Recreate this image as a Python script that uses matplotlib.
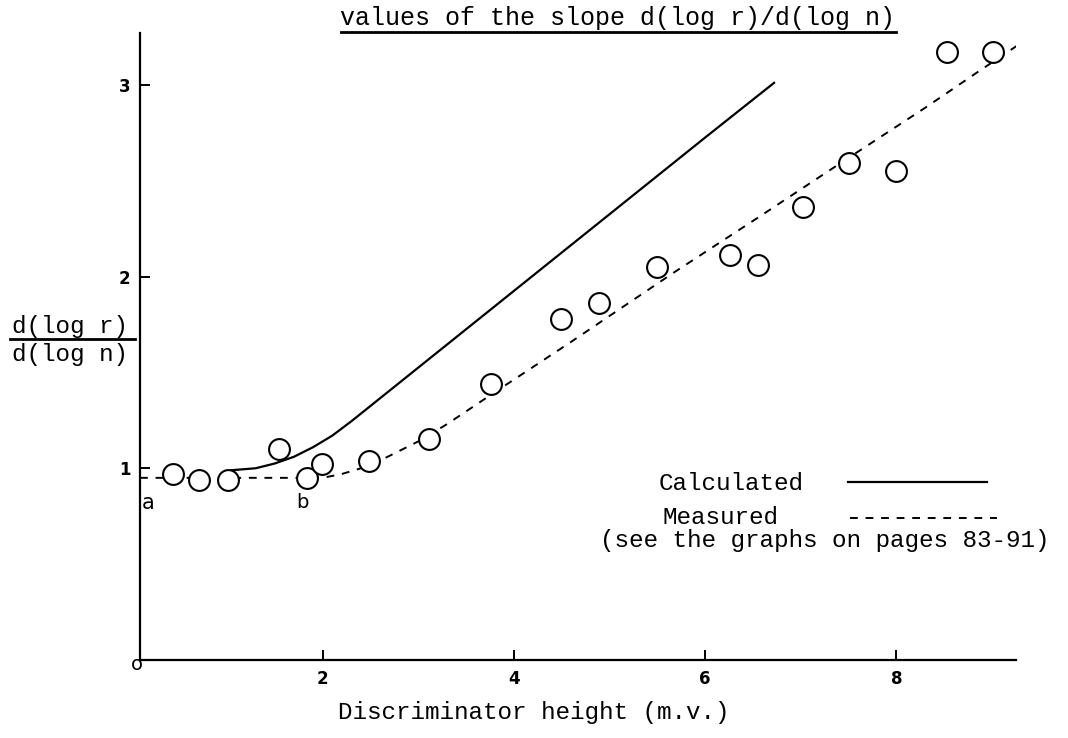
import numpy as np
import matplotlib
matplotlib.use("Agg")
import matplotlib.pyplot as plt
from matplotlib.lines import Line2D

# measured slope values (open circles)
meas_x = [0.44, 0.71, 1.01, 1.54, 1.84, 1.99, 2.48, 3.11, 3.76, 4.49, 4.89,
          5.50, 6.26, 6.55, 7.02, 7.50, 8.00, 8.53, 9.01]
meas_y = [0.97, 0.94, 0.94, 1.10, 0.95, 1.02, 1.04, 1.15, 1.44, 1.78, 1.86,
          2.05, 2.11, 2.06, 2.36, 2.59, 2.55, 3.17, 3.17]

# dashed curve drawn through the measured points
fit_x = [0.09, 1.0, 1.85, 2.05, 2.2, 2.4, 2.6, 2.8, 3.0, 3.3, 3.75, 4.6,
         5.67, 6.53, 7.38, 8.3, 8.86, 9.4]
fit_y = [0.95, 0.95, 0.95, 0.955, 0.97, 1.0, 1.04, 1.09, 1.14, 1.23, 1.38,
         1.66, 2.02, 2.30, 2.58, 2.88, 3.07, 3.25]

# calculated curve (solid)
calc_x = [1.05, 1.3, 1.5, 1.7, 1.9, 2.1, 2.3, 2.5, 2.8, 3.2, 4.0, 5.0, 6.0, 6.72]
calc_y = [0.99, 1.0, 1.025, 1.06, 1.11, 1.17, 1.245, 1.325, 1.445, 1.605,
          1.925, 2.325, 2.725, 3.01]

x_ticks = [2, 4, 6, 8]
y_ticks = [1, 2, 3]

mono = "Liberation Mono"

fig = plt.figure(figsize=(10.68, 7.38), dpi=100)
ax = fig.add_axes([140 / 1068, 1 - 660 / 738, 876 / 1068, 627 / 738])
ax.set_xlim(0.09, 9.25)
ax.set_ylim(0, 3.27)

ax.plot(calc_x, calc_y, color="black", lw=1.6)
ax.plot(fit_x, fit_y, color="black", lw=1.4, dashes=(4, 4))
ax.plot(meas_x, meas_y, "o", ms=15, mfc="white", mec="black", mew=1.5)

for s in ("top", "right"):
    ax.spines[s].set_visible(False)
for s in ("left", "bottom"):
    ax.spines[s].set_linewidth(1.6)

ax.set_xticks(x_ticks)
ax.set_yticks(y_ticks)
ax.tick_params(axis="both", direction="in", length=7, width=1.4, labelsize=12)
ax.tick_params(axis="x", pad=7)
ax.tick_params(axis="y", pad=7)
for lab in ax.get_xticklabels() + ax.get_yticklabels():
    lab.set_fontweight("bold")

# point labels a and b, origin mark
ax.text(0.17, 0.82, "a", fontsize=15, ha="center", va="center")
ax.text(1.79, 0.82, "b", fontsize=14, ha="center", va="center")
fig.text(137 / 1068, 1 - 664 / 738, "o", fontsize=14, ha="center", va="center")

# title with underline
title = fig.text(618 / 1068, 1 - 18 / 738, "values of the slope d(log r)/d(log n)",
                 family=mono, fontsize=18, ha="center", va="center")

# axis labels
fig.text(534 / 1068, 1 - 712 / 738, "Discriminator height (m.v.)",
         family=mono, fontsize=17.5, ha="center", va="center")
fig.text(70 / 1068, 1 - 326 / 738, "d(log r)", family=mono, fontsize=17.5,
         ha="center", va="center")
fig.text(70 / 1068, 1 - 355 / 738, "d(log n)", family=mono, fontsize=17.5,
         ha="center", va="center")
fig.add_artist(Line2D([10 / 1068, 135 / 1068], [1 - 339 / 738, 1 - 339 / 738],
                      color="black", lw=2))

# legend written out by hand
fig.text(659 / 1068, 1 - 483 / 738, "Calculated", family=mono, fontsize=17.5,
         ha="left", va="center")
fig.add_artist(Line2D([848 / 1068, 987 / 1068], [1 - 482 / 738, 1 - 482 / 738],
                      color="black", lw=1.6))
fig.text(662 / 1068, 1 - 518 / 738, "Measured", family=mono, fontsize=17.5,
         ha="left", va="center")
fig.add_artist(Line2D([850 / 1068, 997 / 1068], [1 - 518 / 738, 1 - 518 / 738],
                      color="black", lw=1.4, dashes=(4, 4)))
fig.text(600 / 1068, 1 - 540 / 738, "(see the graphs on pages 83-91)",
         family=mono, fontsize=17.5, ha="left", va="center")

fig.canvas.draw()
bb = title.get_window_extent()
W, H = fig.bbox.width, fig.bbox.height
uy = (bb.y0 - 2) / H
fig.add_artist(Line2D([bb.x0 / W, bb.x1 / W], [uy, uy], color="black", lw=2))

fig.savefig("out.png", dpi=100)
